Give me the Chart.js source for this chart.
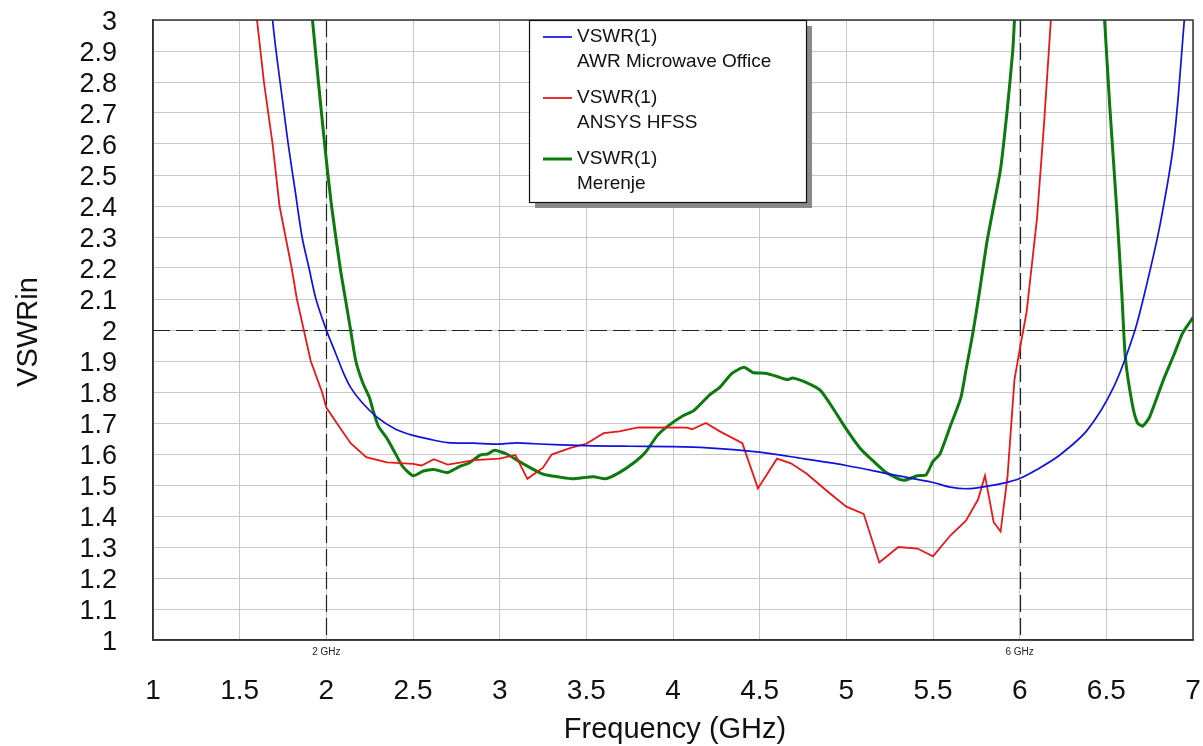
<!DOCTYPE html>
<html>
<head>
<meta charset="utf-8">
<title>VSWRin</title>
<script src="https://cdn.jsdelivr.net/npm/chart.js@4/dist/chart.umd.min.js"></script>
<style>
    html, body { margin: 0; padding: 0; background: #fff; }
    #wrap { position: relative; width: 1203px; height: 746px; }
</style>
</head>
<body>
<div id="wrap"><canvas id="vswrChart"></canvas></div>
<script>
// AWR Microwave Office simulation
const freqAWR = [1.65, 1.69, 1.71, 1.745, 1.78, 1.82, 1.86, 1.90, 1.94, 2.00, 2.05, 2.10, 2.14, 2.20, 2.29, 2.40, 2.50, 2.60, 2.70, 2.85, 3.00, 3.10, 3.20, 3.50, 3.75, 4.00, 4.20, 4.50, 4.75, 5.00, 5.25, 5.50, 5.60, 5.70, 5.80, 5.90, 6.00, 6.10, 6.23, 6.39, 6.54, 6.66, 6.73, 6.81, 6.89, 6.95, 6.98];
const vswrAWR = [3.25, 3.0, 2.9, 2.75, 2.6, 2.45, 2.3, 2.2, 2.1, 2.0, 1.93, 1.86, 1.815, 1.77, 1.72, 1.68, 1.66, 1.647, 1.637, 1.635, 1.632, 1.636, 1.633, 1.627, 1.625, 1.624, 1.62, 1.606, 1.585, 1.563, 1.535, 1.508, 1.493, 1.488, 1.495, 1.505, 1.521, 1.55, 1.596, 1.677, 1.813, 1.99, 2.14, 2.34, 2.61, 3.0, 3.2];

// ANSYS HFSS simulation
const freqHFSS = [1.55, 1.60, 1.64, 1.69, 1.73, 1.80, 1.83, 1.87, 1.91, 1.975, 2.00, 2.06, 2.14, 2.23, 2.35, 2.50, 2.55, 2.62, 2.70, 2.77, 2.85, 3.00, 3.09, 3.16, 3.25, 3.30, 3.41, 3.50, 3.60, 3.69, 3.80, 4.08, 4.11, 4.19, 4.27, 4.40, 4.49, 4.60, 4.68, 4.77, 4.89, 5.00, 5.10, 5.19, 5.30, 5.41, 5.50, 5.60, 5.69, 5.76, 5.80, 5.85, 5.89, 5.93, 5.97, 6.00, 6.04, 6.10, 6.14, 6.18, 6.22];
const vswrHFSS = [3.3, 3.0, 2.8, 2.6, 2.4, 2.2, 2.1, 2.0, 1.90, 1.80, 1.75, 1.70, 1.635, 1.59, 1.573, 1.568, 1.563, 1.583, 1.566, 1.572, 1.58, 1.585, 1.597, 1.52, 1.556, 1.598, 1.62, 1.633, 1.667, 1.673, 1.686, 1.685, 1.68, 1.70, 1.673, 1.635, 1.489, 1.585, 1.57, 1.537, 1.48, 1.43, 1.407, 1.25, 1.30, 1.295, 1.27, 1.337, 1.385, 1.453, 1.53, 1.38, 1.35, 1.528, 1.84, 1.936, 2.058, 2.36, 2.66, 3.0, 3.3];

// Merenje (measurement)
const freqMer = [1.88, 1.92, 1.99, 2.03, 2.08, 2.11, 2.14, 2.17, 2.21, 2.25, 2.27, 2.30, 2.35, 2.40, 2.44, 2.50, 2.56, 2.62, 2.70, 2.77, 2.82, 2.89, 2.93, 2.97, 3.04, 3.14, 3.25, 3.35, 3.42, 3.54, 3.61, 3.69, 3.77, 3.84, 3.91, 3.97, 4.06, 4.12, 4.21, 4.27, 4.34, 4.41, 4.46, 4.54, 4.60, 4.66, 4.69, 4.77, 4.85, 4.92, 5.00, 5.08, 5.15, 5.23, 5.33, 5.41, 5.46, 5.50, 5.54, 5.60, 5.66, 5.69, 5.73, 5.77, 5.81, 5.85, 5.89, 5.93, 5.96, 5.97, 6.00, 6.46, 6.49, 6.52, 6.56, 6.59, 6.61, 6.65, 6.68, 6.71, 6.75, 6.83, 6.89, 6.94, 7.00];
const vswrMer = [3.3, 3.0, 2.6, 2.4, 2.2, 2.1, 2.0, 1.90, 1.83, 1.78, 1.74, 1.69, 1.65, 1.60, 1.56, 1.53, 1.545, 1.55, 1.54, 1.56, 1.57, 1.597, 1.60, 1.612, 1.60, 1.567, 1.535, 1.525, 1.52, 1.527, 1.52, 1.54, 1.57, 1.605, 1.66, 1.69, 1.724, 1.74, 1.79, 1.815, 1.86, 1.88, 1.863, 1.86, 1.85, 1.84, 1.845, 1.83, 1.805, 1.75, 1.68, 1.618, 1.58, 1.54, 1.515, 1.53, 1.533, 1.576, 1.60, 1.69, 1.78, 1.87, 1.99, 2.13, 2.28, 2.40, 2.52, 2.72, 2.90, 3.0, 3.3, 3.3, 3.0, 2.72, 2.39, 2.11, 1.91, 1.76, 1.70, 1.69, 1.72, 1.84, 1.92, 1.99, 2.04];

// markers and reference level
const markerFreqs = [2, 6];
const markerLabels = ['2 GHz', '6 GHz'];
const refLevel = 2;

const legendTitles = ['VSWR(1)', 'VSWR(1)', 'VSWR(1)'];
const legendSources = ['AWR Microwave Office', 'ANSYS HFSS', 'Merenje'];

const FONT = "'Liberation Sans', Arial, sans-serif";

function toPoints(xs, ys) {
    return xs.map((x, i) => ({ x: x, y: ys[i] }));
}

// dashed marker lines, small marker captions, axis titles
const overlayPlugin = {
    id: 'overlay',
    beforeDatasetsDraw(chart) {
        const ctx = chart.ctx;
        const area = chart.chartArea;
        const xs = chart.scales.x;
        const ys = chart.scales.y;
        ctx.save();
        ctx.strokeStyle = '#222';
        ctx.lineWidth = 1.2;
        ctx.setLineDash([17, 6]);
        markerFreqs.forEach(f => {
            const px = Math.round(xs.getPixelForValue(f)) + 0.5;
            ctx.beginPath();
            ctx.moveTo(px, area.top);
            ctx.lineTo(px, area.bottom);
            ctx.stroke();
        });
        const py = Math.round(ys.getPixelForValue(refLevel)) + 0.5;
        ctx.beginPath();
        ctx.moveTo(area.left, py);
        ctx.lineTo(area.right, py);
        ctx.stroke();
        ctx.restore();
    },
    afterDraw(chart) {
        const ctx = chart.ctx;
        const area = chart.chartArea;
        const xs = chart.scales.x;
        ctx.save();
        ctx.fillStyle = '#222';
        ctx.font = '10px ' + FONT;
        ctx.textAlign = 'center';
        ctx.textBaseline = 'middle';
        markerFreqs.forEach((f, i) => {
            ctx.fillText(markerLabels[i], xs.getPixelForValue(f), area.bottom + 12);
        });

        // axis titles
        ctx.fillStyle = '#111';
        ctx.font = '29px ' + FONT;
        ctx.fillText('Frequency (GHz)', (area.left + area.right) / 2 + 2, 730);
        ctx.translate(29, 332);
        ctx.rotate(-Math.PI / 2);
        ctx.fillText('VSWRin', 0, 0);
        ctx.restore();
    }
};

// boxed legend with drop shadow
const legendBoxPlugin = {
    id: 'legendBox',
    afterDraw(chart) {
        const ctx = chart.ctx;
        const bx = 529, by = 20, bw = 277, bh = 182;
        ctx.save();
        ctx.fillStyle = '#8a8a8a';
        ctx.fillRect(bx + 6, by + 6, bw, bh);
        ctx.fillStyle = '#fff';
        ctx.fillRect(bx, by, bw, bh);
        ctx.strokeStyle = '#111';
        ctx.lineWidth = 1.2;
        ctx.strokeRect(bx + 0.5, by + 0.5, bw, bh);

        ctx.font = '19px ' + FONT;
        ctx.textBaseline = 'middle';
        ctx.textAlign = 'left';
        chart.data.datasets.forEach((ds, i) => {
            const y0 = 37 + i * 61;
            ctx.strokeStyle = ds.borderColor;
            ctx.lineWidth = ds.borderWidth;
            ctx.beginPath();
            ctx.moveTo(543, y0);
            ctx.lineTo(572, y0);
            ctx.stroke();
            ctx.fillStyle = '#111';
            ctx.fillText(legendTitles[i], 577, y0);
            ctx.fillText(legendSources[i], 577, y0 + 25);
        });
        ctx.restore();
    }
};

new Chart(document.getElementById('vswrChart').getContext('2d'), {
    type: 'line',
    data: {
        datasets: [{
            label: legendSources[0],
            data: toPoints(freqAWR, vswrAWR),
            borderColor: '#1010e0',
            borderWidth: 1.7,
            pointRadius: 0,
            tension: 0.3
        }, {
            label: legendSources[1],
            data: toPoints(freqHFSS, vswrHFSS),
            borderColor: '#e81818',
            borderWidth: 1.8,
            pointRadius: 0,
            tension: 0
        }, {
            label: legendSources[2],
            data: toPoints(freqMer, vswrMer),
            borderColor: '#0c7a0c',
            borderWidth: 3,
            pointRadius: 0,
            tension: 0.2
        }]
    },
    options: {
        responsive: true,
        maintainAspectRatio: false,
        animation: false,
        layout: { padding: { top: 20, right: 10, left: 0, bottom: 0 } },
        plugins: {
            legend: { display: false },
            tooltip: { enabled: false }
        },
        scales: {
            x: {
                type: 'linear',
                min: 1,
                max: 7,
                afterFit(scale) {
                    scale.height = 106;
                    scale.paddingLeft = 0;
                    scale.paddingRight = 0;
                },
                border: { display: true, color: '#333', width: 1.5 },
                grid: { color: '#c8c8c8', lineWidth: 1, drawTicks: false },
                ticks: {
                    stepSize: 0.5,
                    autoSkip: false,
                    padding: 34,
                    color: '#111',
                    font: { family: FONT, size: 28 },
                    maxRotation: 0,
                    callback: v => String(Number(v.toFixed(1)))
                }
            },
            y: {
                type: 'linear',
                min: 1,
                max: 3,
                afterFit(scale) {
                    scale.width = 153;
                    scale.paddingTop = 0;
                    scale.paddingBottom = 0;
                },
                border: { display: true, color: '#333', width: 1.5 },
                grid: { color: '#c8c8c8', lineWidth: 1, drawTicks: false },
                ticks: {
                    stepSize: 0.1,
                    autoSkip: false,
                    padding: 36,
                    labelOffset: 3,
                    color: '#111',
                    font: { family: FONT, size: 27 },
                    callback: v => String(Number(v.toFixed(1)))
                }
            }
        }
    },
    plugins: [overlayPlugin, legendBoxPlugin, {
        // closing frame around the plot area
        id: 'frame',
        afterDatasetsDraw(chart) {
            const a = chart.chartArea;
            const ctx = chart.ctx;
            ctx.save();
            ctx.strokeStyle = '#333';
            ctx.lineWidth = 1.5;
            ctx.strokeRect(a.left, a.top, a.right - a.left, a.bottom - a.top);
            ctx.restore();
        }
    }]
});
</script>
</body>
</html>
